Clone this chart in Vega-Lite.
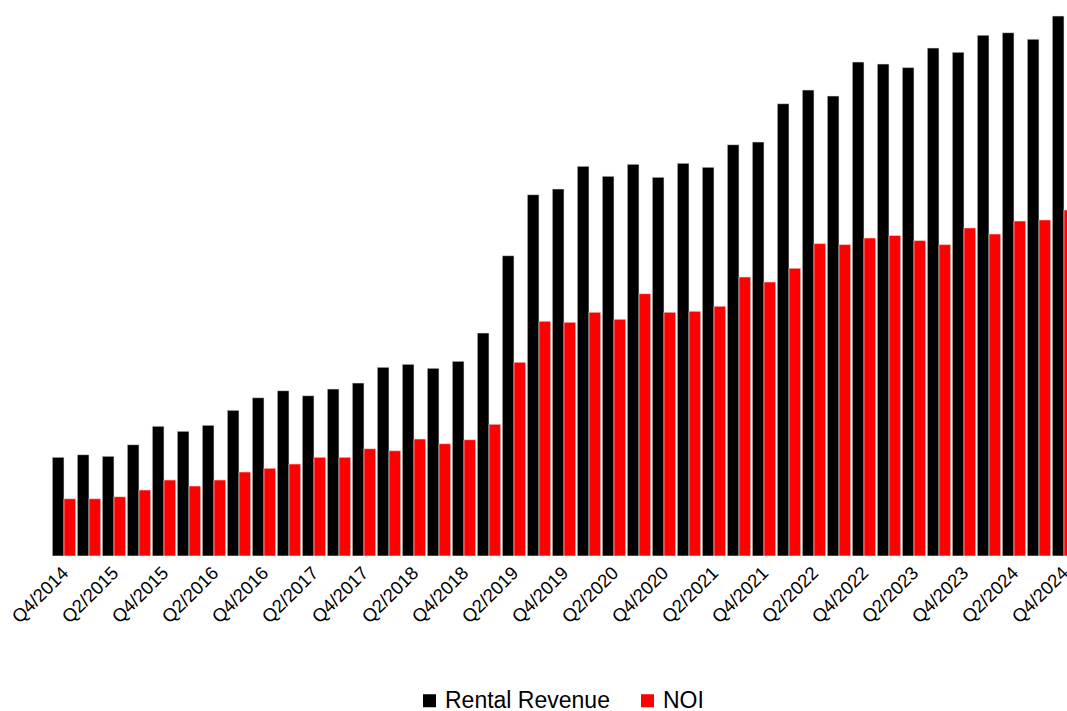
{
  "$schema": "https://vega.github.io/schema/vega-lite/v6.json",
  "autosize": {"type": "none"},
  "width": 1015.5,
  "height": 556,
  "padding": {"left": 51.5, "top": 0, "right": 0, "bottom": 155},
  "background": "white",
  "config": {"view": {"stroke": null}, "font": "Liberation Sans"},
  "data": {"values": [
    {"quarter":"Q4/2014","series":"Rental Revenue","value":98.7},{"quarter":"Q4/2014","series":"NOI","value":57.3},
    {"quarter":"Q1/2015","series":"Rental Revenue","value":101.3},{"quarter":"Q1/2015","series":"NOI","value":57.3},
    {"quarter":"Q2/2015","series":"Rental Revenue","value":99.7},{"quarter":"Q2/2015","series":"NOI","value":59.3},
    {"quarter":"Q3/2015","series":"Rental Revenue","value":111.3},{"quarter":"Q3/2015","series":"NOI","value":66},
    {"quarter":"Q4/2015","series":"Rental Revenue","value":129.7},{"quarter":"Q4/2015","series":"NOI","value":76},
    {"quarter":"Q1/2016","series":"Rental Revenue","value":124.7},{"quarter":"Q1/2016","series":"NOI","value":70},
    {"quarter":"Q2/2016","series":"Rental Revenue","value":130.7},{"quarter":"Q2/2016","series":"NOI","value":76},
    {"quarter":"Q3/2016","series":"Rental Revenue","value":145.7},{"quarter":"Q3/2016","series":"NOI","value":84},
    {"quarter":"Q4/2016","series":"Rental Revenue","value":158.3},{"quarter":"Q4/2016","series":"NOI","value":87.7},
    {"quarter":"Q1/2017","series":"Rental Revenue","value":165.3},{"quarter":"Q1/2017","series":"NOI","value":92},
    {"quarter":"Q2/2017","series":"Rental Revenue","value":160.3},{"quarter":"Q2/2017","series":"NOI","value":98.7},
    {"quarter":"Q3/2017","series":"Rental Revenue","value":167},{"quarter":"Q3/2017","series":"NOI","value":98.7},
    {"quarter":"Q4/2017","series":"Rental Revenue","value":173},{"quarter":"Q4/2017","series":"NOI","value":107.3},
    {"quarter":"Q1/2018","series":"Rental Revenue","value":188.7},{"quarter":"Q1/2018","series":"NOI","value":105.3},
    {"quarter":"Q2/2018","series":"Rental Revenue","value":191.7},{"quarter":"Q2/2018","series":"NOI","value":117},
    {"quarter":"Q3/2018","series":"Rental Revenue","value":187.7},{"quarter":"Q3/2018","series":"NOI","value":112.3},
    {"quarter":"Q4/2018","series":"Rental Revenue","value":194.7},{"quarter":"Q4/2018","series":"NOI","value":116.3},
    {"quarter":"Q1/2019","series":"Rental Revenue","value":223},{"quarter":"Q1/2019","series":"NOI","value":131.7},
    {"quarter":"Q2/2019","series":"Rental Revenue","value":300.3},{"quarter":"Q2/2019","series":"NOI","value":193.7},
    {"quarter":"Q3/2019","series":"Rental Revenue","value":361.3},{"quarter":"Q3/2019","series":"NOI","value":234.7},
    {"quarter":"Q4/2019","series":"Rental Revenue","value":367},{"quarter":"Q4/2019","series":"NOI","value":233.7},
    {"quarter":"Q1/2020","series":"Rental Revenue","value":389.7},{"quarter":"Q1/2020","series":"NOI","value":243.7},
    {"quarter":"Q2/2020","series":"Rental Revenue","value":379.7},{"quarter":"Q2/2020","series":"NOI","value":236.7},
    {"quarter":"Q3/2020","series":"Rental Revenue","value":391.7},{"quarter":"Q3/2020","series":"NOI","value":262.3},
    {"quarter":"Q4/2020","series":"Rental Revenue","value":378.7},{"quarter":"Q4/2020","series":"NOI","value":243.7},
    {"quarter":"Q1/2021","series":"Rental Revenue","value":392.7},{"quarter":"Q1/2021","series":"NOI","value":244.7},
    {"quarter":"Q2/2021","series":"Rental Revenue","value":388.7},{"quarter":"Q2/2021","series":"NOI","value":249.7},
    {"quarter":"Q3/2021","series":"Rental Revenue","value":411.3},{"quarter":"Q3/2021","series":"NOI","value":279},
    {"quarter":"Q4/2021","series":"Rental Revenue","value":414},{"quarter":"Q4/2021","series":"NOI","value":274},
    {"quarter":"Q1/2022","series":"Rental Revenue","value":452.3},{"quarter":"Q1/2022","series":"NOI","value":287.7},
    {"quarter":"Q2/2022","series":"Rental Revenue","value":466},{"quarter":"Q2/2022","series":"NOI","value":312.4},
    {"quarter":"Q3/2022","series":"Rental Revenue","value":460},{"quarter":"Q3/2022","series":"NOI","value":311.4},
    {"quarter":"Q4/2022","series":"Rental Revenue","value":494},{"quarter":"Q4/2022","series":"NOI","value":318},
    {"quarter":"Q1/2023","series":"Rental Revenue","value":492},{"quarter":"Q1/2023","series":"NOI","value":320.5},
    {"quarter":"Q2/2023","series":"Rental Revenue","value":488.4},{"quarter":"Q2/2023","series":"NOI","value":315.4},
    {"quarter":"Q3/2023","series":"Rental Revenue","value":508},{"quarter":"Q3/2023","series":"NOI","value":311.4},
    {"quarter":"Q4/2023","series":"Rental Revenue","value":503.7},{"quarter":"Q4/2023","series":"NOI","value":328.1},
    {"quarter":"Q1/2024","series":"Rental Revenue","value":520.8},{"quarter":"Q1/2024","series":"NOI","value":322},
    {"quarter":"Q2/2024","series":"Rental Revenue","value":523.3},{"quarter":"Q2/2024","series":"NOI","value":335},
    {"quarter":"Q3/2024","series":"Rental Revenue","value":516.8},{"quarter":"Q3/2024","series":"NOI","value":336.1},
    {"quarter":"Q4/2024","series":"Rental Revenue","value":540},{"quarter":"Q4/2024","series":"NOI","value":346}
  ]},
  "mark": {"type": "bar", "clip": true, "stroke": "#e6e6e6", "strokeWidth": 0.6},
  "encoding": {
    "x": {
      "field": "quarter", "type": "nominal", "sort": null,
      "scale": {"range": [0, 1025], "paddingInner": 0.064, "paddingOuter": 0.032},
      "axis": {
        "title": null, "domain": false, "ticks": false, "labelAngle": -45,
        "labelFontSize": 18.5, "labelColor": "#000000", "labelPadding": 7,
        "labelOffset": -5, "labelFont": "Liberation Sans", "labelLimit": 200,
        "values": ["Q4/2014","Q2/2015","Q4/2015","Q2/2016","Q4/2016","Q2/2017","Q4/2017","Q2/2018","Q4/2018","Q2/2019","Q4/2019","Q2/2020","Q4/2020","Q2/2021","Q4/2021","Q2/2022","Q4/2022","Q2/2023","Q4/2023","Q2/2024","Q4/2024"]
      }
    },
    "xOffset": {"field": "series", "type": "nominal", "scale": {"domain": ["Rental Revenue", "NOI"], "paddingInner": 0, "paddingOuter": 0}},
    "y": {"field": "value", "type": "quantitative", "scale": {"domain": [0, 556], "nice": false}, "axis": null},
    "color": {
      "field": "series", "type": "nominal",
      "scale": {"domain": ["Rental Revenue", "NOI"], "range": ["#000000", "#ff0000"]},
      "legend": {
        "title": null, "orient": "none", "direction": "horizontal",
        "legendX": 366.5, "legendY": 689,
        "symbolType": "square", "symbolSize": 169, "symbolStrokeWidth": 0,
        "labelFontSize": 23, "labelFont": "Liberation Sans", "labelColor": "#000000",
        "labelLimit": 400, "labelOffset": 4, "columnPadding": 26, "padding": 0
      }
    }
  }
}
